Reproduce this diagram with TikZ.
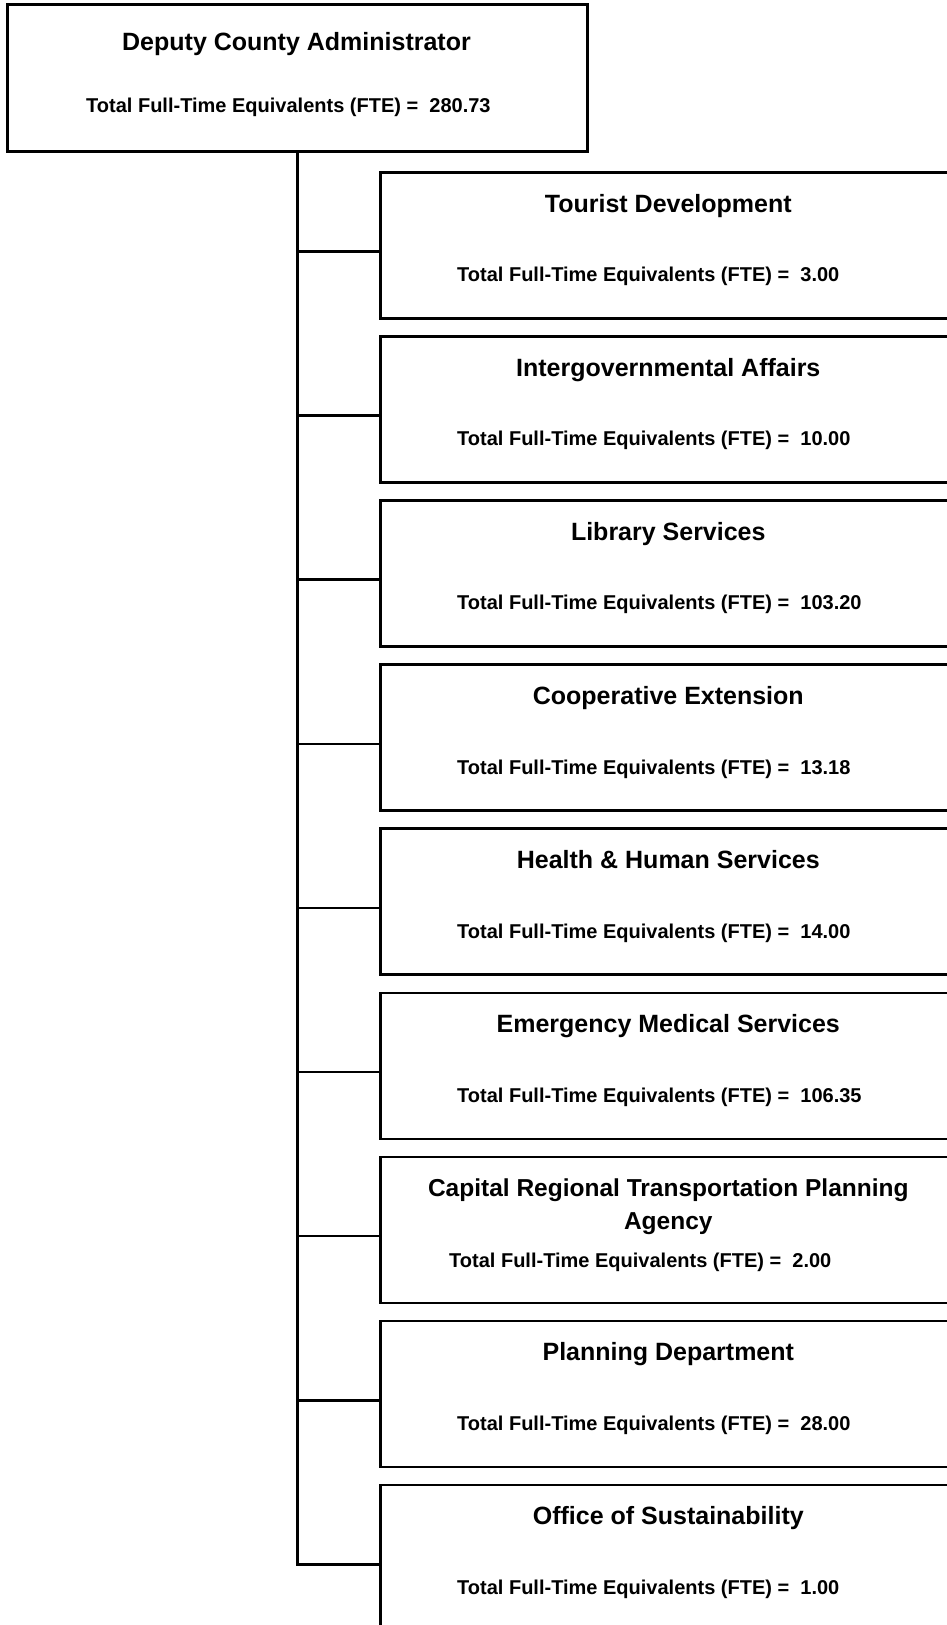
\documentclass[tikz,border=0pt]{standalone}
\usepackage{fontspec}
\setmainfont{Liberation Sans}
\begin{document}
\begin{tikzpicture}[x=1pt,y=-1pt]
\tikzset{
  box/.style={draw, line width=2.6pt, rectangle, minimum width=576pt, minimum height=146pt, inner sep=0pt, anchor=north west},
  topbox/.style={draw, line width=2.6pt, rectangle, minimum width=580pt, minimum height=147pt, inner sep=0pt, anchor=north west},
  ttl/.style={font=\bfseries\fontsize{25}{33.3}\selectfont, anchor=base, inner sep=0pt, align=center},
  fte/.style={font=\bfseries\fontsize{20}{24}\selectfont, anchor=base west, inner sep=0pt},
  link/.style={line width=2.6pt}
}
\useasboundingbox (0,0) rectangle (947,1625);
\clip (0,0) rectangle (947,1625);
\fill[white] (0,0) rectangle (947,1625);

% top box
\node[topbox] (top) at (6,3) {};
\node[ttl] (toptitle) at (296.5,50) {Deputy County Administrator};
\node[fte] (topfte) at (86,112) {Total Full-Time Equivalents (FTE) =\ \ 280.73};

% child boxes
\foreach \i in {1,...,9}{
  \node[box] (b\i) at (379,{171+(\i-1)*164.1}) {};
  \coordinate (c\i) at (379,{171+(\i-1)*164.1+80.5});
}

\foreach \i/\t/\f in {1/Tourist Development/3.00,
                      2/Intergovernmental Affairs/10.00,
                      3/Library Services/103.20,
                      4/Cooperative Extension/13.18,
                      5/Health \& Human Services/14.00,
                      6/Emergency Medical Services/106.35,
                      8/Planning Department/28.00,
                      9/Office of Sustainability/1.00}{
  \node[ttl] (t\i) at ([yshift=-41pt]b\i.north) {\t};
  \node[fte] (f\i) at ([xshift=78pt,yshift=-110.7pt]b\i.north west) {Total Full-Time Equivalents (FTE) =\ \ \f};
}
% Capital box (anchor base = baseline of the last line)
\node[ttl, font=\bfseries\fontsize{24.5}{33.3}\selectfont] (t7) at ([yshift=-74pt]b7.north) {Capital Regional Transportation Planning\\Agency};
\node[fte] (f7) at ([xshift=70pt,yshift=-112pt]b7.north west) {Total Full-Time Equivalents (FTE) =\ \ 2.00};

% connectors
\draw[link] (top.south) |- (c9);
\foreach \i in {1,...,8}{
  \draw[link] (top.south |- c\i) -- (c\i);
}
\end{tikzpicture}
\end{document}
